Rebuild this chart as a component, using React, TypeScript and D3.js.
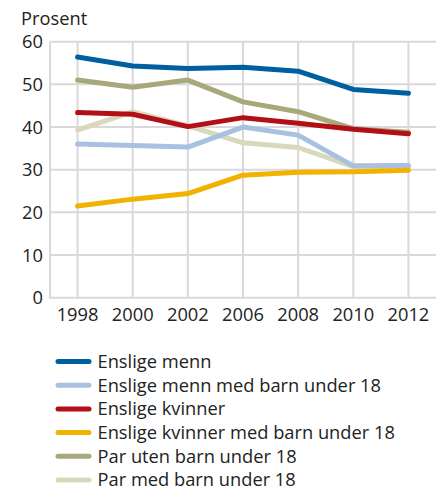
import React from "react";
import * as d3 from "d3";

const years = ["1998", "2000", "2002", "2006", "2008", "2010", "2012"];
const yTicks = [0, 10, 20, 30, 40, 50, 60];

const seriesNames = [
  "Enslige menn",
  "Enslige menn med barn under 18",
  "Enslige kvinner",
  "Enslige kvinner med barn under 18",
  "Par uten barn under 18",
  "Par med barn under 18",
];
const colors = ["#00609f", "#a9c1e1", "#b30f16", "#f2b200", "#a8a97b", "#d9d8bd"];

const ensligeMenn = [56.4, 54.3, 53.7, 54.0, 53.1, 48.8, 47.9];
const ensligeMennBarn = [36.0, 35.7, 35.3, 40.0, 38.1, 30.9, 31.0];
const ensligeKvinner = [43.4, 43.0, 40.1, 42.2, 40.9, 39.5, 38.4];
const ensligeKvinnerBarn = [21.5, 23.1, 24.4, 28.7, 29.4, 29.5, 29.9];
const parUtenBarn = [51.0, 49.3, 51.0, 45.9, 43.6, 39.6, 38.8];
const parMedBarn = [39.3, 43.6, 40.3, 36.3, 35.2, 30.7, 30.8];

const allValues = [ensligeMenn, ensligeMennBarn, ensligeKvinner, ensligeKvinnerBarn, parUtenBarn, parMedBarn];
// drawing order (bottom to top)
const drawOrder = [5, 4, 1, 2, 0, 3];

const font = "'Open Sans', sans-serif";

export default function App() {
  const width = 444;
  const height = 491;
  const left = 50, right = 436, top = 41.7, bottom = 297.7;

  const x = d3.scalePoint<string>().domain(years).range([left, right]).padding(0.5);
  const y = d3.scaleLinear().domain([0, 60]).range([bottom, top]);

  const line = d3
    .line<number>()
    .x((d, i) => x(years[i]) as number)
    .y((d) => y(d));

  const grid = "#d9d9d9";
  const fs = 18.3;

  return (
    <div style={{ position: "absolute", left: 0, top: 0 }}>
      <svg width={width} height={height} style={{ display: "block", fontFamily: font }}>
        <rect width={width} height={height} fill="#fff" />
        {/* horizontal grid */}
        {yTicks.map((t) => (
          <line key={"h" + t} x1={left} x2={right} y1={y(t)} y2={y(t)} stroke={grid} strokeWidth={2} />
        ))}
        {/* vertical grid */}
        {years.map((yr) => (
          <line key={"v" + yr} x1={x(yr)} x2={x(yr)} y1={top} y2={bottom} stroke={grid} strokeWidth={2} />
        ))}
        <line x1={left} x2={left} y1={top} y2={bottom + 1} stroke={grid} strokeWidth={2} />

        {yTicks.map((t) => (
          <text key={"yl" + t} x={43} y={y(t) + 6.5} textAnchor="end" fontSize={fs} fill="#222">
            {t}
          </text>
        ))}
        {years.map((yr) => (
          <text key={"xl" + yr} x={x(yr)} y={320.5} textAnchor="middle" fontSize={fs} fill="#222">
            {yr}
          </text>
        ))}
        <text x={21} y={25.3} fontSize={fs} fill="#222">
          Prosent
        </text>

        {drawOrder.map((i) => (
          <path
            key={"s" + i}
            d={line(allValues[i]) || ""}
            fill="none"
            stroke={colors[i]}
            strokeWidth={5}
            strokeLinecap="round"
            strokeLinejoin="round"
          />
        ))}

        {seriesNames.map((name, i) => {
          const cy = 361.5 + i * 23.7;
          return (
            <g key={"lg" + i}>
              <line x1={58} x2={89} y1={cy} y2={cy} stroke={colors[i]} strokeWidth={5} strokeLinecap="round" />
              <text x={97.5} y={cy + 6.3} fontSize={fs} fill="#222">
                {name}
              </text>
            </g>
          );
        })}
      </svg>
    </div>
  );
}
